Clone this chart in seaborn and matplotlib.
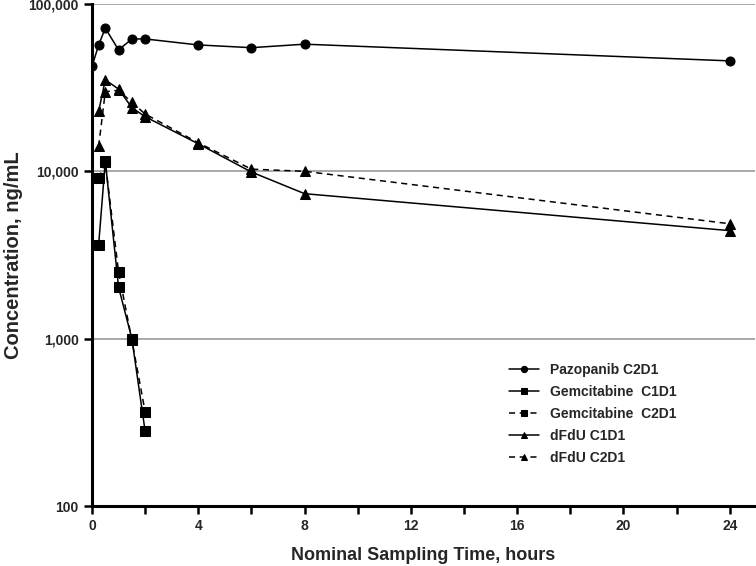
import numpy as np
import pandas as pd
import matplotlib
matplotlib.use("Agg")
import matplotlib.pyplot as plt
import seaborn as sns
from matplotlib.ticker import FixedLocator, FuncFormatter, NullLocator

# Time points (hours)
t_paz = [0, 0.25, 0.5, 1, 1.5, 2, 4, 6, 8, 24]
t_gem = [0.25, 0.5, 1, 1.5, 2]
t_dfdu = [0.25, 0.5, 1, 1.5, 2, 4, 6, 8, 24]

# Concentrations (ng/mL)
paz_c2d1 = [42300, 56900, 71700, 53100, 61800, 61800, 56900, 54800, 57500, 45700]
gem_c1d1 = [3640, 11500, 2030, 1000, 279]
gem_c2d1 = [9100, 11300, 2500, 980, 365]
dfdu_c1d1 = [22800, 35200, 31000, 24000, 21200, 14600, 9900, 7350, 4420]
dfdu_c2d1 = [14100, 29900, 30500, 25800, 22000, 14800, 10300, 10000, 4860]

labels = ["Pazopanib C2D1", "Gemcitabine  C1D1", "Gemcitabine  C2D1", "dFdU C1D1", "dFdU C2D1"]

sns.set_style("white")
plt.rcParams['font.family'] = ['Liberation Sans', 'DejaVu Sans']

frames = []
for lab, t, c in zip(labels, [t_paz, t_gem, t_gem, t_dfdu, t_dfdu],
                     [paz_c2d1, gem_c1d1, gem_c2d1, dfdu_c1d1, dfdu_c2d1]):
    frames.append(pd.DataFrame({'time': t, 'conc': c, 'series': lab}))
df = pd.concat(frames, ignore_index=True)

fig = plt.figure(figsize=(7.56, 5.66), dpi=100)
ax = fig.add_axes([0.1217, 0.106, 0.877, 0.887])

markers = {labels[0]: 'o', labels[1]: 's', labels[2]: 's', labels[3]: '^', labels[4]: '^'}
dashes = {labels[0]: '', labels[1]: '', labels[2]: (4, 3), labels[3]: '', labels[4]: (4, 3)}

sns.lineplot(data=df, x='time', y='conc', hue='series', style='series',
             markers=markers, dashes=dashes, palette=['black'] * 5,
             hue_order=labels, style_order=labels,
             markersize=6.5, markeredgecolor='black', linewidth=1.1, ax=ax)

ax.set_yscale('log')
ax.set_ylim(100, 100000)
ax.set_xlim(0, 24.95)

ax.yaxis.set_major_locator(FixedLocator([100, 1000, 10000, 100000]))
ax.yaxis.set_minor_locator(NullLocator())
ax.yaxis.set_major_formatter(FuncFormatter(lambda v, p: f"{int(v):,}"))
ax.xaxis.set_major_locator(FixedLocator([0, 4, 8, 12, 16, 20, 24]))
ax.xaxis.set_minor_locator(FixedLocator([2, 6, 10, 14, 18, 22]))

ax.grid(axis='y', which='major', color='#999999', linewidth=1.2)
ax.set_axisbelow(True)

for s in ['top', 'right']:
    ax.spines[s].set_visible(False)
for s in ['left', 'bottom']:
    ax.spines[s].set_linewidth(2.2)
    ax.spines[s].set_color('black')

ax.tick_params(axis='both', which='major', direction='out', length=6, width=1.8,
               labelsize=10, color='black', left=True, bottom=True)
ax.tick_params(axis='x', which='minor', direction='out', length=6, width=1.8,
               color='black', bottom=True)
for lbl in ax.get_xticklabels() + ax.get_yticklabels():
    lbl.set_fontweight('bold')

ax.set_xlabel('Nominal Sampling Time, hours', fontsize=13, fontweight='bold', labelpad=10)
ax.set_ylabel('Concentration, ng/mL', fontsize=14.5, fontweight='bold', labelpad=4)

leg = ax.legend(loc='upper left', bbox_to_anchor=(0.62, 0.296), frameon=False,
                prop={'weight': 'bold', 'size': 10}, handlelength=2.2,
                labelspacing=0.58, borderaxespad=0)
for h in leg.legend_handles:
    h.set_markersize(4.5)

fig.savefig('out.png', dpi=100)
